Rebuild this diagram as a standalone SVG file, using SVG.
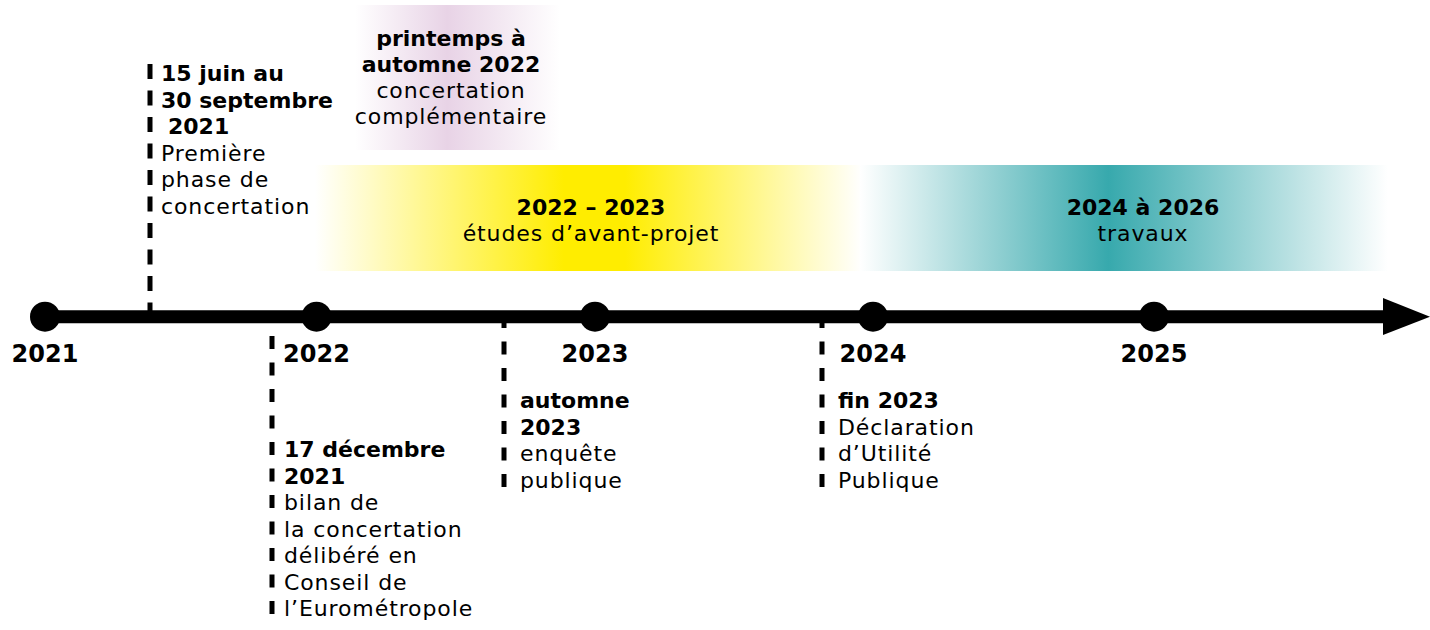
<svg xmlns="http://www.w3.org/2000/svg" width="1430" height="630" viewBox="0 0 1430 630">
<style>
.b{font-family:"DejaVu Sans","Liberation Sans",sans-serif;font-weight:bold;font-size:22px;fill:#000}
.r{font-family:"DejaVu Sans","Liberation Sans",sans-serif;font-size:22px;letter-spacing:0.9px;fill:#000}
.y{font-family:"DejaVu Sans","Liberation Sans",sans-serif;font-weight:bold;font-size:24px;fill:#000;text-anchor:middle}
.c{text-anchor:middle}
.dash{stroke:#000;stroke-width:5;fill:none}
</style>
<defs>
<linearGradient id="gP" x1="0" y1="0" x2="1" y2="0">
<stop offset="0" stop-color="#fff"/>
<stop offset="0.45" stop-color="#e8d3e6"/>
<stop offset="1" stop-color="#fff"/>
</linearGradient>
<linearGradient id="gY" x1="0" y1="0" x2="1" y2="0">
<stop offset="0" stop-color="#fff"/>
<stop offset="0.455" stop-color="#ffed00"/>
<stop offset="0.567" stop-color="#ffed00"/>
<stop offset="1" stop-color="#fff"/>
</linearGradient>
<linearGradient id="gT" x1="0" y1="0" x2="1" y2="0">
<stop offset="0" stop-color="#fff"/>
<stop offset="0.47" stop-color="#37a9ad"/>
<stop offset="1" stop-color="#fff"/>
</linearGradient>
</defs>

<g id="phase-complementaire">
<rect x="355" y="5" width="205" height="145" fill="url(#gP)"/>
<text class="b c" x="451" y="46">printemps à</text>
<text class="b c" x="451" y="72">automne 2022</text>
<text class="r c" x="451" y="98">concertation</text>
<text class="r c" x="451" y="124">complémentaire</text>
</g>

<g id="etudes">
<rect x="315" y="165" width="547" height="106" fill="url(#gY)"/>
<text class="b c" x="591" y="215">2022 – 2023</text>
<text class="r c" x="591" y="241">études d’avant-projet</text>
</g>

<g id="travaux">
<rect x="860" y="165" width="528" height="106" fill="url(#gT)"/>
<text class="b c" x="1143" y="215">2024 à 2026</text>
<text class="r c" x="1143" y="241">travaux</text>
</g>

<g id="connectors">
<path class="dash" d="M150 64 V316" stroke-dasharray="15 11.5"/>
<path class="dash" d="M272 323 V615" stroke-dasharray="13 13.5" stroke-dashoffset="13.5"/>
<path class="dash" d="M504 323 V488" stroke-dasharray="13 13.5" stroke-dashoffset="8"/>
<path class="dash" d="M822 323 V488" stroke-dasharray="13 13.5" stroke-dashoffset="8"/>
</g>

<g id="axis">
<line x1="45" y1="316.7" x2="1390" y2="316.7" stroke="#000" stroke-width="13"/>
<polygon points="1383,298 1430,316.7 1383,335" fill="#000"/>
</g>

<g id="y2021">
<circle cx="45" cy="316.7" r="15" fill="#000"/>
<text class="y" x="45" y="362">2021</text>
</g>
<g id="y2022">
<circle cx="316.5" cy="316.7" r="15" fill="#000"/>
<text class="y" x="316.5" y="362">2022</text>
</g>
<g id="y2023">
<circle cx="595" cy="316.7" r="15" fill="#000"/>
<text class="y" x="595" y="362">2023</text>
</g>
<g id="y2024">
<circle cx="873" cy="316.7" r="15" fill="#000"/>
<text class="y" x="873" y="362">2024</text>
</g>
<g id="y2025">
<circle cx="1154" cy="316.7" r="15" fill="#000"/>
<text class="y" x="1154" y="362">2025</text>
</g>

<g id="premiere-phase">
<text class="b" x="161" y="81">15 juin au</text>
<text class="b" x="161" y="107.5">30 septembre</text>
<text class="b" x="168" y="134">2021</text>
<text class="r" x="161" y="160.5">Première</text>
<text class="r" x="161" y="187">phase de</text>
<text class="r" x="161" y="213.5">concertation</text>
</g>

<g id="bilan">
<text class="b" x="284" y="457">17 décembre</text>
<text class="b" x="284" y="483.5">2021</text>
<text class="r" x="284" y="510">bilan de</text>
<text class="r" x="284" y="536.5">la concertation</text>
<text class="r" x="284" y="563">délibéré en</text>
<text class="r" x="284" y="589.5">Conseil de</text>
<text class="r" x="284" y="616">l’Eurométropole</text>
</g>

<g id="enquete">
<text class="b" x="520" y="408">automne</text>
<text class="b" x="520" y="434.5">2023</text>
<text class="r" x="520" y="461">enquête</text>
<text class="r" x="520" y="487.5">publique</text>
</g>

<g id="dup">
<text class="b" x="838" y="408">fin 2023</text>
<text class="r" x="838" y="434.5">Déclaration</text>
<text class="r" x="838" y="461">d’Utilité</text>
<text class="r" x="838" y="487.5">Publique</text>
</g>
</svg>
